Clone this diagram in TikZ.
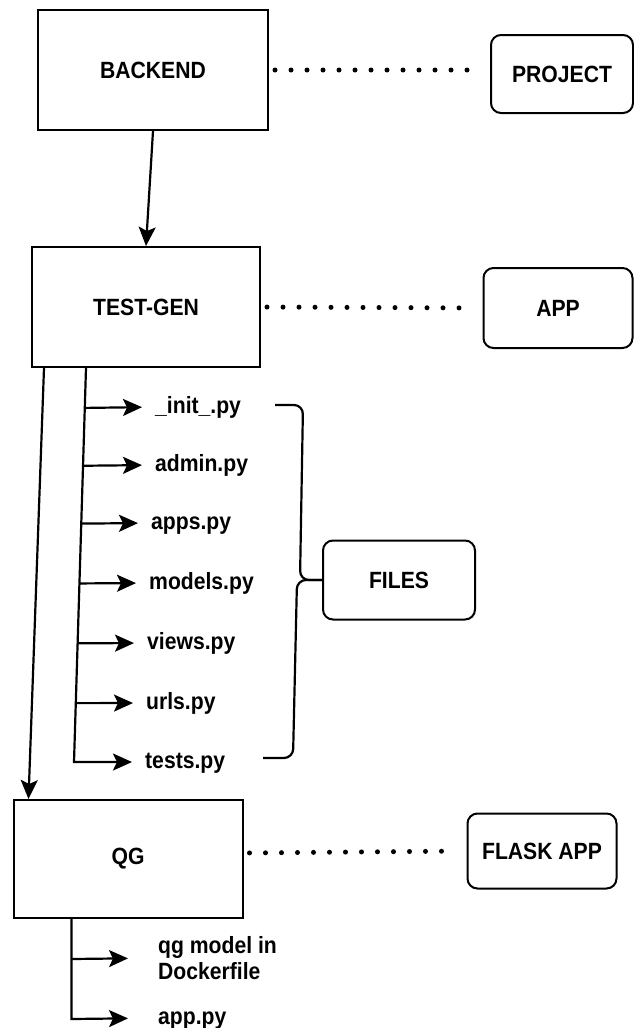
\documentclass[tikz,border=0pt]{standalone}
\usepackage{fontspec}
\setmainfont{Liberation Sans}[FakeStretch=0.9]
\usetikzlibrary{arrows.meta,calc}
\begin{document}
\begin{tikzpicture}[x=1pt,y=-1pt,
  font=\fontsize{23.5}{26}\selectfont\bfseries,
  box/.style={draw,line width=2pt,inner sep=0pt},
  rbox/.style={box,rounded corners=10pt},
  filelabel/.style={anchor=west,inner sep=0pt,text height=17pt,text depth=5pt},
  dotline/.style={line width=5pt,line cap=round,dash pattern=on 0pt off 16pt,shorten <=6pt,shorten >=10pt},
  conn/.style={line width=2.2pt},
  arr/.style={line width=2.2pt,-{Stealth[length=19pt,width=17pt,inset=4pt]}},
  farr/.style={arr,shorten >=13pt}]
\fill[white] (0,0) rectangle (634,1028);
\useasboundingbox (0,0) rectangle (634,1028);

% main boxes
\node[box,minimum width=230pt,minimum height=120pt] (backend) at (153,70) {BACKEND};
\node[rbox,minimum width=142pt,minimum height=78pt] (project) at (562,74) {PROJECT};
\node[box,minimum width=228pt,minimum height=120pt] (testgen) at (146,307) {TEST-GEN};
\node[rbox,minimum width=149pt,minimum height=80pt] (app) at (558,308) {APP};
\node[rbox,minimum width=152pt,minimum height=79pt] (files) at (399,580) {FILES};
\node[box,minimum width=229pt,minimum height=118pt] (qg) at (128,859) {QG};
\node[rbox,minimum width=149pt,minimum height=75pt] (flask) at (542,851) {FLASK APP};

% dotted links
\draw[dotline] (backend.east) -- (backend.east -| project.west);
\draw[dotline] (testgen.east) -- (app.west);
\draw[dotline] ([yshift=6pt]qg.east) -- (flask.west);

% backend -> test-gen
\draw[arr] (backend.south) -- (testgen.north);
% test-gen -> qg
\draw[arr] ([xshift=13pt]testgen.south west) -- ([xshift=16pt]qg.north west);

% file labels
\node[filelabel] (f1) at (155,407) {\_init\_.py};
\node[filelabel] (f2) at (155,465) {admin.py};
\node[filelabel] (f3) at (151,523) {apps.py};
\node[filelabel] (f4) at (149,583) {models.py};
\node[filelabel] (f5) at (147,643) {views.py};
\node[filelabel] (f6) at (146,703) {urls.py};
\node[filelabel] (f7) at (145,762) {tests.py};

% trunk
\coordinate (ttop) at ([xshift=55pt]testgen.south west);
\coordinate (tbot) at (74,762);
\coordinate (b1) at ($(ttop)!0.1013!(tbot)$);
\coordinate (b2) at ($(ttop)!0.2481!(tbot)$);
\coordinate (b3) at ($(ttop)!0.3949!(tbot)$);
\coordinate (b4) at ($(ttop)!0.5468!(tbot)$);
\coordinate (b5) at ($(ttop)!0.6987!(tbot)$);
\coordinate (b6) at ($(ttop)!0.8506!(tbot)$);
\draw[farr] (ttop) -- (tbot) -- (f7.west);
\draw[farr] (b1) -- (f1.west);
\draw[farr] (b2) -- (f2.west);
\draw[farr] (b3) -- (f3.west);
\draw[farr] (b4) -- (f4.west);
\draw[farr] (b5) -- (f5.west);
\draw[farr] (b6) -- (f6.west);

% brace to FILES
\draw[conn,rounded corners=9pt] (275,405) -- (303,405) -- (300,580) -- (files.west);
\draw[conn,rounded corners=9pt] (files.west) -- (297,580) -- (293,758) -- (263,758);

% qg children
\node[anchor=west,align=left,inner sep=0pt] (qgm) at (158,958) {qg model in\\Dockerfile};
\node[filelabel] (apppy) at (158,1018) {app.py};
\coordinate (q0) at ([xshift=59pt]qg.south west);
\coordinate (q1) at ($(q0)+(0,40)$);
\coordinate (q2) at ($(q0)+(0,100)$);
\draw[arr,shorten >=30pt] (q0) -- (q2) -- (apppy.west);
\draw[arr,shorten >=30pt] (q1) -- (qgm.west);
\end{tikzpicture}
\end{document}
